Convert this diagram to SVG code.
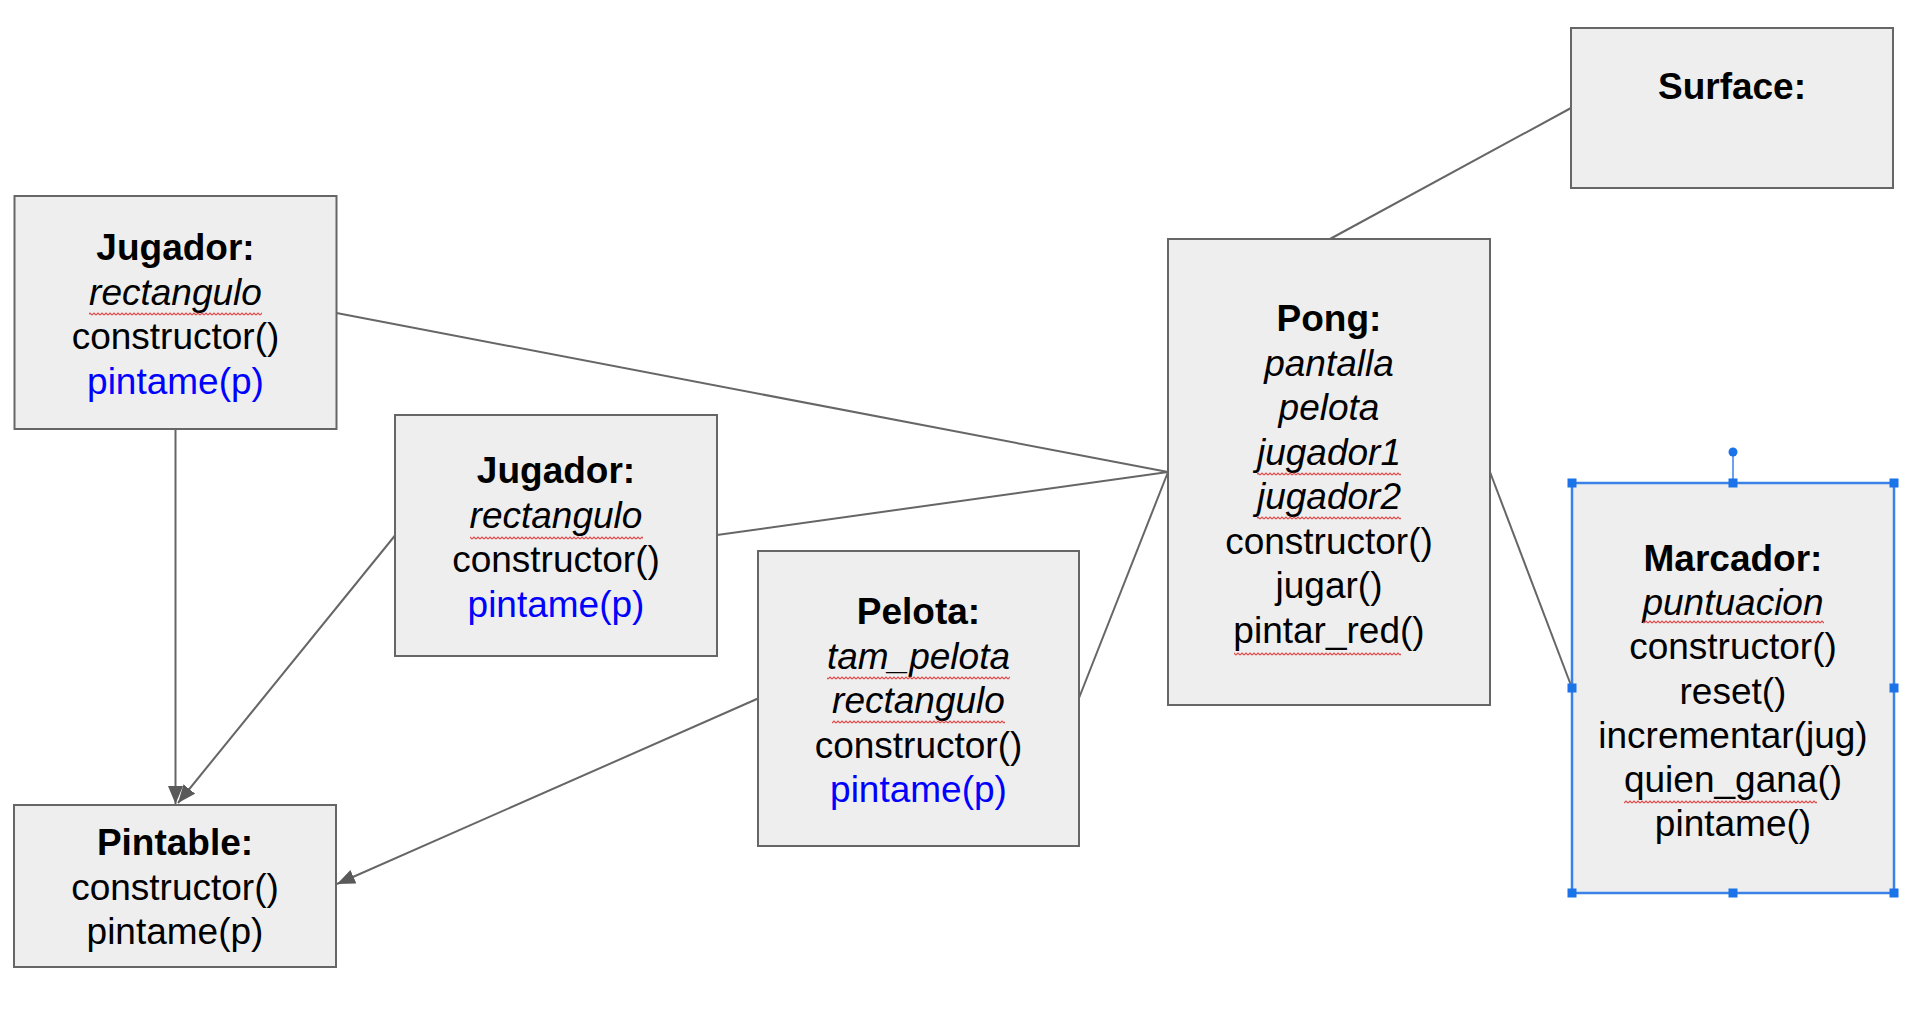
<svg xmlns="http://www.w3.org/2000/svg" width="1921" height="1011" viewBox="0 0 1921 1011">
<style>
.box{fill:#eeeeee;stroke:#666666;stroke-width:2}
.sel{fill:#eeeeee;stroke:#3b82e8;stroke-width:2.5}
text{font-family:"Liberation Sans",Arial,sans-serif;font-size:37px;fill:#000;text-anchor:middle}
.t{font-weight:bold}
.i{font-style:italic}
.b{fill:#0000ff}
.c{stroke:#666666;stroke-width:2;fill:none}
.h{fill:#1a73e8}
.sq{fill:url(#squig)}
</style>
<defs>
<marker id="arr" markerUnits="userSpaceOnUse" markerWidth="20" markerHeight="16" refX="18" refY="7.5" orient="auto">
<path d="M0,0 L18,7.5 L0,15 z" fill="#595959"/>
</marker>
<pattern id="squig" patternUnits="userSpaceOnUse" width="4" height="4">
<path d="M0,3 L2,1 L4,3" stroke="#e04848" stroke-width="1.2" fill="none"/>
</pattern>
</defs>
<rect width="1921" height="1011" fill="#ffffff"/>
<g id="connectors">
<line class="c" x1="336.5" y1="313" x2="1168" y2="472"/>
<line class="c" x1="717" y1="535" x2="1168" y2="472"/>
<line class="c" x1="1079" y1="698" x2="1168" y2="472"/>
<line class="c" x1="1330" y1="239" x2="1571" y2="108"/>
<line class="c" x1="1490" y1="472" x2="1572" y2="688"/>
<line class="c" x1="175.5" y1="429" x2="175.5" y2="804" marker-end="url(#arr)"/>
<line class="c" x1="395" y1="535.5" x2="178" y2="803" marker-end="url(#arr)"/>
<line class="c" x1="758" y1="698.5" x2="337" y2="884" marker-end="url(#arr)"/>
</g>
<g id="jugador1">
<rect class="box" x="14.5" y="196" width="322" height="233"/>
<text class="t" x="175.5" y="260">Jugador:</text>
<text class="i" x="175.5" y="304.5">rectangulo</text>
<rect class="sq" x="89" y="312" width="173" height="4"/>
<text x="175.5" y="349">constructor()</text>
<text class="b" x="175.5" y="393.5">pintame(p)</text>
</g>
<g id="jugador2">
<rect class="box" x="395" y="415" width="322" height="241"/>
<text class="t" x="556" y="483">Jugador:</text>
<text class="i" x="556" y="527.5">rectangulo</text>
<rect class="sq" x="470" y="536" width="173" height="4"/>
<text x="556" y="572">constructor()</text>
<text class="b" x="556" y="616.5">pintame(p)</text>
</g>
<g id="pintable">
<rect class="box" x="14" y="805" width="322" height="162"/>
<text class="t" x="175" y="855">Pintable:</text>
<text x="175" y="899.5">constructor()</text>
<text x="175" y="944">pintame(p)</text>
</g>
<g id="pelota">
<rect class="box" x="758" y="551" width="321" height="295"/>
<text class="t" x="918.5" y="624">Pelota:</text>
<text class="i" x="918.5" y="668.5">tam_pelota</text>
<rect class="sq" x="827" y="676" width="183" height="4"/>
<text class="i" x="918.5" y="713">rectangulo</text>
<rect class="sq" x="832" y="720" width="173" height="4"/>
<text x="918.5" y="757.5">constructor()</text>
<text class="b" x="918.5" y="802">pintame(p)</text>
</g>
<g id="pong">
<rect class="box" x="1168" y="239" width="322" height="466"/>
<text class="t" x="1329" y="331">Pong:</text>
<text class="i" x="1329" y="375.5">pantalla</text>
<text class="i" x="1329" y="420">pelota</text>
<text class="i" x="1329" y="464.5">jugador1</text>
<rect class="sq" x="1257" y="472" width="144" height="4"/>
<text class="i" x="1329" y="509">jugador2</text>
<rect class="sq" x="1257" y="516" width="144" height="4"/>
<text x="1329" y="553.5">constructor()</text>
<text x="1329" y="598">jugar()</text>
<text x="1329" y="642.5">pintar_red()</text>
<rect class="sq" x="1234" y="652" width="167" height="4"/>
</g>
<g id="surface">
<rect class="box" x="1571" y="28" width="322" height="160"/>
<text class="t" x="1732" y="99">Surface:</text>
</g>
<g id="marcador">
<rect class="sel" x="1572" y="483" width="322" height="410"/>
<text class="t" x="1733" y="571">Marcador:</text>
<text class="i" x="1733" y="615.2">puntuacion</text>
<rect class="sq" x="1643" y="620" width="181" height="4"/>
<text x="1733" y="659.4">constructor()</text>
<text x="1733" y="703.6">reset()</text>
<text x="1733" y="747.8">incrementar(jug)</text>
<text x="1733" y="792">quien_gana()</text>
<rect class="sq" x="1624" y="800" width="193" height="4"/>
<text x="1733" y="836.2">pintame()</text>
<line x1="1733" y1="483" x2="1733" y2="452" stroke="#3b82e8" stroke-width="1.5"/>
<circle class="h" cx="1733" cy="452" r="4.5"/>
<rect class="h" x="1567.5" y="478.5" width="9" height="9"/>
<rect class="h" x="1728.5" y="478.5" width="9" height="9"/>
<rect class="h" x="1889.5" y="478.5" width="9" height="9"/>
<rect class="h" x="1567.5" y="683.5" width="9" height="9"/>
<rect class="h" x="1889.5" y="683.5" width="9" height="9"/>
<rect class="h" x="1567.5" y="888.5" width="9" height="9"/>
<rect class="h" x="1728.5" y="888.5" width="9" height="9"/>
<rect class="h" x="1889.5" y="888.5" width="9" height="9"/>
</g>
</svg>
